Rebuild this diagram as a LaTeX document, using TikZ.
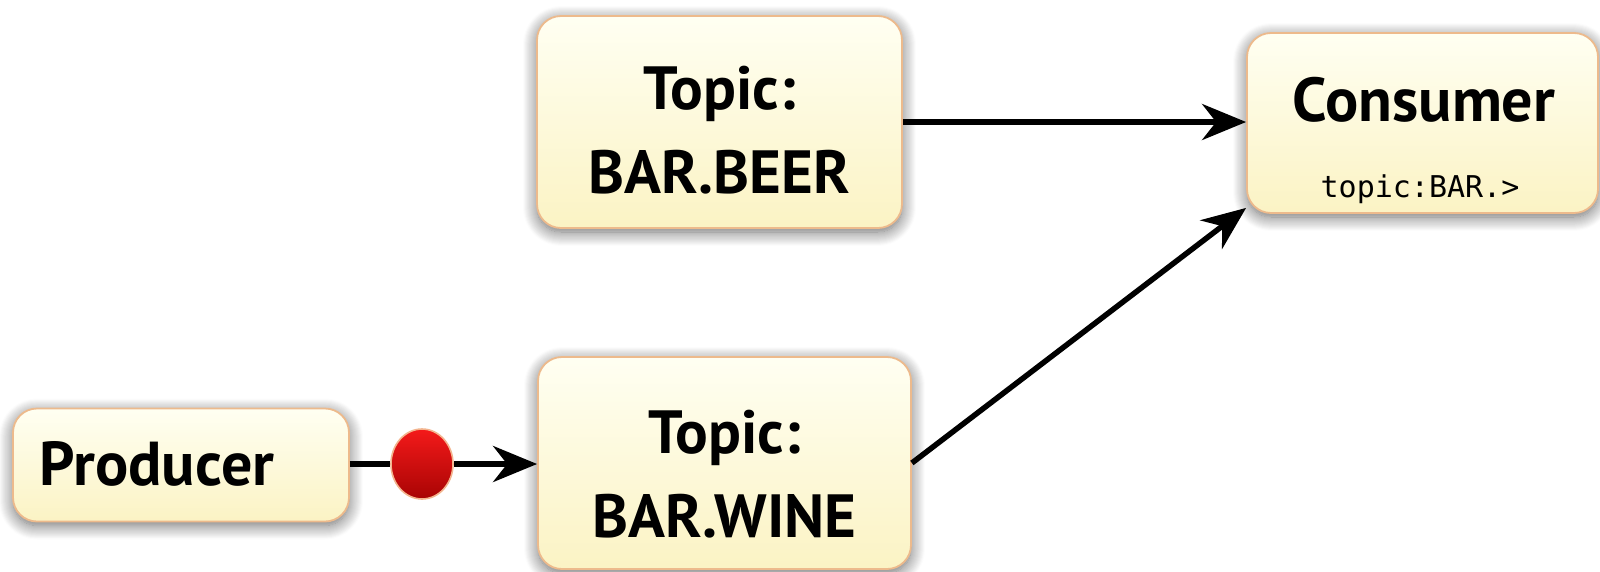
\documentclass[tikz,border=0pt]{standalone}
\usepackage{fontspec}
\setmainfont{PT Sans}
\newfontfamily\monofont{DejaVu Sans Mono}
\usetikzlibrary{arrows.meta,shadows.blur,shapes.geometric}

\definecolor{boxtop}{HTML}{FFFFF2}
\definecolor{boxbot}{HTML}{FBF3C4}
\definecolor{boxedge}{HTML}{EDBA8C}
\definecolor{balltop}{HTML}{F41A1A}
\definecolor{ballbot}{HTML}{A80404}
\definecolor{balledge}{HTML}{F3B48E}

\tikzset{
  card/.style={rectangle, rounded corners=24pt, draw=boxedge, line width=1.8pt,
    top color=boxtop, bottom color=boxbot,
    blur shadow={shadow xshift=0pt, shadow yshift=-4pt, shadow blur radius=14pt,
      shadow blur steps=14, shadow opacity=60}},
  cardtext/.style={align=center, inner sep=0pt, font=\bfseries\fontsize{61}{84}\selectfont},
  flow/.style={line width=5.5pt, -{Stealth[length=44pt, width=36pt, inset=14pt]}},
  link/.style={line width=5.5pt},
  msgball/.style={ellipse, minimum width=62pt, minimum height=70pt, inner sep=0pt,
    draw=balledge, line width=1.6pt, top color=balltop, bottom color=ballbot}
}

\begin{document}
\begin{tikzpicture}[x=1pt, y=-1pt]
  \useasboundingbox (0,0) rectangle (1600,571);

  % topic boxes
  \node[card, minimum width=365pt, minimum height=212pt] (beer) at (719.5,122) {};
  \node[cardtext] (beertext) at ([yshift=-8pt]beer.center) {Topic:\\BAR.BEER};
  \node[card, minimum width=373pt, minimum height=212pt] (wine) at (724.5,463) {};
  \node[cardtext] (winetext) at ([yshift=-11pt]wine.center) {Topic:\\BAR.WINE};

  % consumer with its subscription
  \node[card, minimum width=351pt, minimum height=180pt] (cons) at (1422.5,123) {};
  \node[font=\bfseries\fontsize{62}{64}\selectfont, inner sep=0pt] (constitle) at (1424,100) {Consumer};
  \node[font=\monofont\fontsize{30}{34}\selectfont] (conssub) at (1420,189) {topic:BAR.>};

  % producer
  \node[card, minimum width=336pt, minimum height=113pt] (prod) at (181,465) {};
  \node[font=\bfseries\fontsize{62}{64}\selectfont, inner sep=0pt] (prodtext) at (157,464) {Producer};

  % message in flight
  \node[msgball] (msg) at (422,464) {};

  % connectors
  \draw[link] (prod.east |- msg) -- (msg.west);
  \draw[flow] (msg.east) -- (wine.west |- msg);
  \draw[flow] (beer.east) -- (cons.west |- beer.east);
  \draw[flow] (wine.east) -- ([yshift=6pt]cons.south west);
\end{tikzpicture}
\end{document}
